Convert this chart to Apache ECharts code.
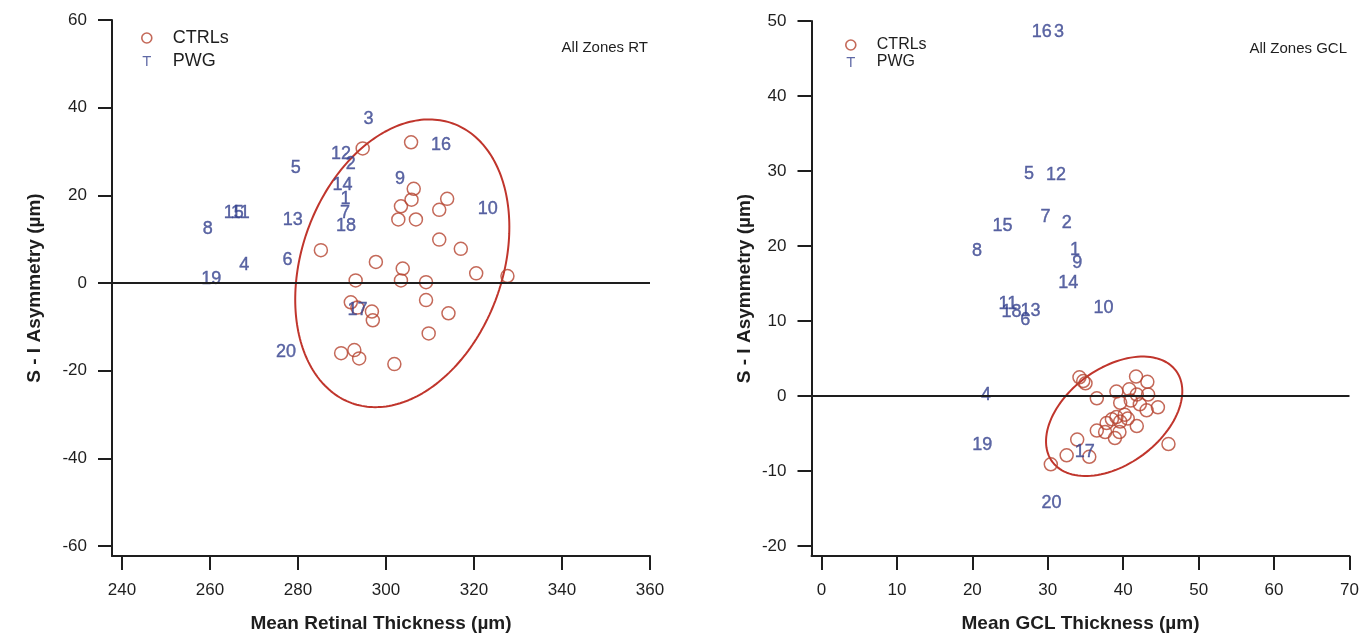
<!DOCTYPE html>
<html>
<head>
<meta charset="utf-8">
<title>S - I Asymmetry vs Mean Thickness</title>
<script src="https://cdn.jsdelivr.net/npm/echarts@6/dist/echarts.min.js"></script>
<style>
  html, body { margin: 0; padding: 0; background: #fff; }
  #chart { width: 1364px; height: 638px; }
</style>
</head>
<body>
<div id="chart"></div>
<script>
// ---- data ---------------------------------------------------------------
const subjectIds = [1, 2, 3, 4, 5, 6, 7, 8, 9, 10, 11, 12, 13, 14, 15, 16, 17, 18, 19, 20];

// Retinal thickness (all zones): PWG subjects, labelled by id
const pwgRtMean = [290.8, 292.0, 296.0, 267.8, 279.5, 277.6, 290.7, 259.5, 303.2, 323.1,
                   266.9, 289.8, 278.8, 290.1, 265.4, 312.5, 293.5, 290.9, 260.3, 277.3];
const pwgRtAsym = [19.2, 27.2, 37.4, 4.0, 26.2, 5.2, 16.0, 12.4, 23.8, 16.9,
                   16.0, 29.4, 14.4, 22.4, 16.0, 31.5, -6.2, 13.1, 0.8, -15.8];

// Retinal thickness: controls
const ctrlRtMean = [294.7, 305.7, 306.3, 305.8, 303.4, 313.9, 312.1, 302.8, 306.8, 312.1,
                    317.0, 285.2, 297.7, 303.8, 293.1, 303.4, 309.1, 320.5, 327.6, 309.1,
                    292.0, 293.5, 296.8, 297.0, 314.2, 309.7, 289.8, 292.8, 293.9, 301.9];
const ctrlRtAsym = [30.7, 32.1, 21.5, 19.0, 17.5, 19.2, 16.7, 14.5, 14.5, 9.9,
                    7.8, 7.5, 4.8, 3.3, 0.6, 0.6, 0.2, 2.2, 1.6, -3.9,
                    -4.4, -5.6, -6.5, -8.5, -6.9, -11.5, -16.0, -15.3, -17.2, -18.5];

// GCL thickness (all zones): PWG subjects
const pwgGclMean = [33.6, 32.5, 31.5, 21.8, 27.5, 27.0, 29.7, 20.6, 33.9, 37.4,
                    24.7, 31.1, 27.7, 32.7, 24.0, 29.2, 34.9, 25.2, 21.3, 30.5];
const pwgGclAsym = [19.4, 23.0, 48.5, 0.2, 29.6, 10.1, 23.8, 19.3, 17.7, 11.7,
                    12.3, 29.4, 11.3, 15.0, 22.7, 48.5, -7.5, 11.2, -6.5, -14.2];

// GCL thickness: controls
const ctrlGclMean = [34.2, 34.7, 35.0, 41.7, 43.2, 39.1, 40.8, 41.8, 43.3, 36.5,
                     39.6, 41.0, 42.2, 44.6, 43.1, 40.2, 39.1, 40.6, 38.5, 37.8,
                     39.6, 41.8, 36.5, 37.6, 39.5, 38.9, 33.9, 46.0, 32.5, 35.5, 30.4];
const ctrlGclAsym = [2.5, 2.0, 1.7, 2.6, 1.9, 0.6, 0.9, 0.2, 0.2, -0.3,
                     -0.9, -0.6, -1.1, -1.5, -1.9, -2.5, -2.8, -3.0, -3.1, -3.6,
                     -3.4, -4.0, -4.6, -4.8, -4.8, -5.6, -5.8, -6.4, -7.9, -8.1, -9.1];

// Control-group ellipses (data units; angle of the major axis in degrees)
const rtEllipse = { cx: 303.7, cy: 4.5, a: 33.9, b: 22.8, angle: 70.2 };
const gclEllipse = { cx: 38.8, cy: -2.7, a: 10.2, b: 6.4, angle: 36.6 };

// Tick values
const rtXTicks = [240, 260, 280, 300, 320, 340, 360];
const rtYTicks = [-60, -40, -20, 0, 20, 40, 60];
const gclXTicks = [0, 10, 20, 30, 40, 50, 60, 70];
const gclYTicks = [-20, -10, 0, 10, 20, 30, 40, 50];

// ---- layout ---------------------------------------------------------------
const FONT = 'Liberation Sans, Arial, Helvetica, sans-serif';
const PLOT = 528;      // plot extent in px (both axes)
const STANDOFF = 10;   // gap between the axes and the first tick
const RED = '#b5432f';
const ELLIPSE_RED = '#c0352c';
const BLUE = '#36428e';
const INK = '#1e1e1e';

function standoffMin(ticks) {
  const lo = ticks[0], hi = ticks[ticks.length - 1];
  return lo - STANDOFF * (hi - lo) / PLOT;
}

function ellipsePoints(e, n) {
  const th = e.angle * Math.PI / 180;
  const pts = [];
  for (let i = 0; i <= n; i++) {
    const t = 2 * Math.PI * i / n;
    pts.push([
      e.cx + e.a * Math.cos(th) * Math.cos(t) - e.b * Math.sin(th) * Math.sin(t),
      e.cy + e.a * Math.sin(th) * Math.cos(t) + e.b * Math.cos(th) * Math.sin(t)
    ]);
  }
  return pts;
}

const zip = (xs, ys) => xs.map((x, i) => [x, ys[i]]);
const labelled = (xs, ys) => xs.map((x, i) => [x, ys[i], subjectIds[i]]);

function valueAxis(ticks, gridIndex, name, nameGap, isY) {
  return {
    type: 'value',
    gridIndex: gridIndex,
    min: standoffMin(ticks),
    max: ticks[ticks.length - 1],
    name: name,
    nameLocation: 'middle',
    nameGap: nameGap,
    nameRotate: isY ? 90 : 0,
    nameTextStyle: { fontFamily: FONT, fontSize: 19, fontWeight: 'bold', color: INK },
    axisLine: { show: true, onZero: false, lineStyle: { color: INK, width: 2 } },
    axisTick: { show: true, length: 14, inside: false, customValues: ticks,
                lineStyle: { color: INK, width: 2 } },
    axisLabel: { show: true, customValues: ticks, margin: isY ? 25 : 26,
                 fontFamily: FONT, fontSize: 17, color: INK },
    splitLine: { show: false }
  };
}

function ctrlSeries(name, xi, data) {
  return {
    name: name, type: 'scatter', xAxisIndex: xi, yAxisIndex: xi,
    data: data, symbol: 'circle', symbolSize: 13, z: 3,
    itemStyle: { color: 'rgba(255,255,255,0)', borderColor: RED, borderWidth: 1.5 },
    markLine: {
      silent: true, symbol: ['none', 'none'], label: { show: false },
      lineStyle: { color: INK, width: 1.8, type: 'solid' },
      data: [{ yAxis: 0 }]
    }
  };
}

function pwgSeries(name, xi, data) {
  return {
    name: name, type: 'scatter', xAxisIndex: xi, yAxisIndex: xi,
    data: data, symbol: 'circle', symbolSize: 1, z: 4,
    itemStyle: { color: 'rgba(0,0,0,0)' },
    label: {
      show: true, position: 'inside',
      formatter: p => String(p.data[2]),
      fontFamily: FONT, fontSize: 18, color: BLUE,
      textBorderColor: BLUE, textBorderWidth: 0.4
    }
  };
}

function ellipseSeries(xi, e) {
  return {
    name: 'ellipse', type: 'line', xAxisIndex: xi, yAxisIndex: xi,
    data: ellipsePoints(e, 240), showSymbol: false, smooth: false, z: 2,
    lineStyle: { color: ELLIPSE_RED, width: 2 }, silent: true
  };
}

function legendBlock(left, top, fontSize, lineHeight, gap) {
  return {
    orient: 'vertical', left: left, top: top, itemGap: gap,
    itemWidth: 42, itemHeight: 10, selectedMode: false,
    textStyle: { fontFamily: FONT, fontSize: fontSize, color: INK, lineHeight: lineHeight },
    data: [
      { name: 'CTRLs', icon: 'circle',
        itemStyle: { color: 'rgba(255,255,255,0)', borderColor: RED, borderWidth: 1.6 } },
      { name: 'PWG', icon: 'path://M0,0H10V1.6H5.8V12H4.2V1.6H0Z',
        itemStyle: { color: BLUE, borderWidth: 0 } }
    ]
  };
}

const chart = echarts.init(document.getElementById('chart'), null, { renderer: 'canvas' });

chart.setOption({
  backgroundColor: '#ffffff',
  animation: false,
  title: [
    { text: 'All Zones RT', right: 711, top: 35,
      textStyle: { fontFamily: FONT, fontSize: 15, fontWeight: 'normal', color: INK } },
    { text: 'All Zones GCL', right: 12, top: 36,
      textStyle: { fontFamily: FONT, fontSize: 15, fontWeight: 'normal', color: INK } }
  ],
  legend: [legendBlock(136, 23, 18, 20, 3), legendBlock(840, 32, 16, 16, 1)],
  grid: [
    { left: 112, top: 20, width: PLOT + STANDOFF, height: PLOT + STANDOFF },
    { left: 811.5, top: 21, width: PLOT + STANDOFF, height: PLOT + STANDOFF }
  ],
  xAxis: [
    valueAxis(rtXTicks, 0, 'Mean Retinal Thickness (µm)', 58, false),
    valueAxis(gclXTicks, 1, 'Mean GCL Thickness (µm)', 58, false)
  ],
  yAxis: [
    valueAxis(rtYTicks, 0, 'S - I Asymmetry (µm)', 68, true),
    valueAxis(gclYTicks, 1, 'S - I Asymmetry (µm)', 57, true)
  ],
  series: [
    ellipseSeries(0, rtEllipse),
    ctrlSeries('CTRLs', 0, zip(ctrlRtMean, ctrlRtAsym)),
    pwgSeries('PWG', 0, labelled(pwgRtMean, pwgRtAsym)),
    ellipseSeries(1, gclEllipse),
    ctrlSeries('CTRLs', 1, zip(ctrlGclMean, ctrlGclAsym)),
    pwgSeries('PWG', 1, labelled(pwgGclMean, pwgGclAsym))
  ]
});
</script>
</body>
</html>
